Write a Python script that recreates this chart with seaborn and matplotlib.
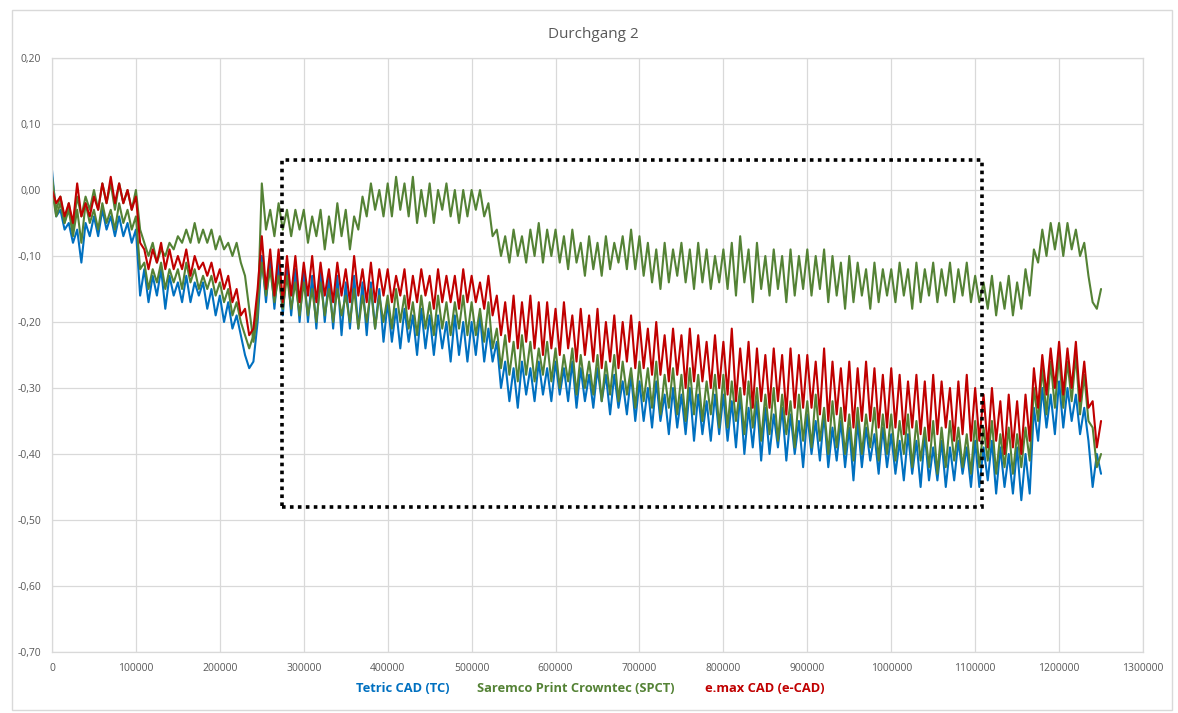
import numpy as np
import pandas as pd
import matplotlib
matplotlib.use("Agg")
import matplotlib.pyplot as plt
from matplotlib.patches import Rectangle
import seaborn as sns

# ---------------- data ----------------
title = "Durchgang 2"
series_names = ["Tetric CAD (TC)", "Saremco Print Crowntec (SPCT)", "e.max CAD (e-CAD)"]

# cycle positions: samples every 5000 cycles, 0 ... 1250000
cycles = list(range(0, 1250001, 5000))

tetric = [
    0.03, -0.04, -0.03, -0.06, -0.05, -0.08, -0.06, -0.11, -0.05, -0.07, -0.04, -0.07, -0.03, -0.06, -0.04, -0.07, -0.04, -0.07, -0.05, -0.08,
    -0.06, -0.16, -0.12, -0.17, -0.13, -0.16, -0.12, -0.18, -0.13, -0.16, -0.14, -0.17, -0.13, -0.17, -0.14, -0.16, -0.14, -0.18, -0.15, -0.19,
    -0.16, -0.20, -0.17, -0.21, -0.19, -0.22, -0.25, -0.27, -0.26, -0.20, -0.10, -0.17, -0.10, -0.18, -0.11, -0.19, -0.11, -0.19, -0.12, -0.20,
    -0.12, -0.20, -0.13, -0.21, -0.12, -0.20, -0.13, -0.21, -0.13, -0.22, -0.14, -0.21, -0.13, -0.21, -0.14, -0.22, -0.14, -0.21, -0.15, -0.23,
    -0.17, -0.23, -0.18, -0.24, -0.18, -0.23, -0.19, -0.25, -0.18, -0.24, -0.19, -0.25, -0.19, -0.24, -0.20, -0.26, -0.19, -0.25, -0.20, -0.26,
    -0.20, -0.25, -0.19, -0.26, -0.21, -0.26, -0.23, -0.30, -0.26, -0.32, -0.27, -0.33, -0.26, -0.31, -0.27, -0.32, -0.26, -0.31, -0.27, -0.32,
    -0.26, -0.31, -0.27, -0.32, -0.26, -0.33, -0.27, -0.32, -0.28, -0.33, -0.27, -0.32, -0.28, -0.34, -0.28, -0.33, -0.29, -0.34, -0.28, -0.35,
    -0.29, -0.35, -0.30, -0.36, -0.29, -0.35, -0.31, -0.37, -0.30, -0.36, -0.31, -0.37, -0.30, -0.38, -0.31, -0.37, -0.32, -0.38, -0.31, -0.37,
    -0.31, -0.38, -0.32, -0.39, -0.31, -0.40, -0.33, -0.39, -0.32, -0.41, -0.33, -0.40, -0.34, -0.39, -0.33, -0.41, -0.34, -0.40, -0.35, -0.42,
    -0.34, -0.40, -0.35, -0.41, -0.34, -0.42, -0.36, -0.41, -0.35, -0.42, -0.36, -0.44, -0.35, -0.42, -0.36, -0.41, -0.37, -0.43, -0.36, -0.42,
    -0.37, -0.43, -0.38, -0.44, -0.37, -0.43, -0.38, -0.45, -0.37, -0.44, -0.39, -0.44, -0.38, -0.45, -0.39, -0.44, -0.38, -0.43, -0.39, -0.45,
    -0.38, -0.45, -0.39, -0.44, -0.38, -0.46, -0.39, -0.45, -0.40, -0.46, -0.39, -0.47, -0.40, -0.46, -0.33, -0.38, -0.30, -0.36, -0.31, -0.37,
    -0.29, -0.36, -0.30, -0.35, -0.31, -0.37, -0.33, -0.38, -0.45, -0.40, -0.43,
]

emax = [
    0.00, -0.02, -0.01, -0.04, -0.02, -0.05, 0.01, -0.04, -0.02, -0.04, -0.01, -0.03, 0.01, -0.02, 0.02, -0.02, 0.01, -0.02, 0.00, -0.03,
    -0.01, -0.08, -0.09, -0.12, -0.09, -0.11, -0.08, -0.12, -0.09, -0.12, -0.10, -0.12, -0.09, -0.13, -0.10, -0.12, -0.11, -0.13, -0.11, -0.14,
    -0.12, -0.15, -0.13, -0.17, -0.15, -0.19, -0.18, -0.22, -0.21, -0.15, -0.07, -0.15, -0.09, -0.16, -0.09, -0.17, -0.10, -0.16, -0.10, -0.17,
    -0.11, -0.16, -0.10, -0.17, -0.11, -0.16, -0.12, -0.17, -0.11, -0.16, -0.12, -0.17, -0.10, -0.16, -0.12, -0.17, -0.11, -0.17, -0.12, -0.16,
    -0.12, -0.17, -0.13, -0.16, -0.12, -0.18, -0.13, -0.17, -0.12, -0.16, -0.13, -0.18, -0.12, -0.17, -0.13, -0.17, -0.13, -0.18, -0.12, -0.17,
    -0.13, -0.17, -0.14, -0.18, -0.13, -0.19, -0.16, -0.22, -0.17, -0.23, -0.16, -0.24, -0.17, -0.23, -0.16, -0.24, -0.17, -0.25, -0.17, -0.24,
    -0.18, -0.25, -0.17, -0.24, -0.19, -0.26, -0.18, -0.25, -0.19, -0.26, -0.18, -0.27, -0.20, -0.26, -0.19, -0.27, -0.20, -0.26, -0.19, -0.27,
    -0.20, -0.27, -0.21, -0.28, -0.20, -0.28, -0.22, -0.29, -0.21, -0.28, -0.22, -0.30, -0.21, -0.29, -0.22, -0.29, -0.23, -0.30, -0.22, -0.30,
    -0.23, -0.31, -0.21, -0.32, -0.24, -0.31, -0.23, -0.33, -0.24, -0.32, -0.25, -0.33, -0.24, -0.32, -0.25, -0.34, -0.24, -0.33, -0.25, -0.33,
    -0.25, -0.33, -0.26, -0.34, -0.24, -0.35, -0.26, -0.34, -0.27, -0.35, -0.26, -0.36, -0.27, -0.35, -0.26, -0.35, -0.27, -0.36, -0.28, -0.36,
    -0.27, -0.36, -0.28, -0.37, -0.29, -0.36, -0.28, -0.37, -0.29, -0.38, -0.28, -0.37, -0.29, -0.36, -0.30, -0.38, -0.29, -0.37, -0.28, -0.38,
    -0.30, -0.38, -0.31, -0.39, -0.30, -0.38, -0.32, -0.40, -0.31, -0.39, -0.32, -0.40, -0.31, -0.38, -0.27, -0.33, -0.25, -0.31, -0.24, -0.30,
    -0.23, -0.31, -0.24, -0.30, -0.23, -0.32, -0.26, -0.33, -0.32, -0.39, -0.35,
]

saremco_low = [
    0.00, -0.04, -0.02, -0.05, -0.03, -0.07, -0.03, -0.08, -0.02, -0.05, -0.03, -0.06, -0.02, -0.05, -0.03, -0.06, -0.02, -0.05, -0.03, -0.06,
    -0.04, -0.12, -0.11, -0.15, -0.12, -0.14, -0.11, -0.15, -0.12, -0.14, -0.12, -0.15, -0.11, -0.14, -0.12, -0.15, -0.13, -0.15, -0.13, -0.16,
    -0.14, -0.17, -0.15, -0.19, -0.17, -0.20, -0.22, -0.24, -0.22, -0.17, -0.11, -0.16, -0.12, -0.17, -0.13, -0.18, -0.13, -0.18, -0.14, -0.19,
    -0.14, -0.19, -0.15, -0.20, -0.14, -0.19, -0.15, -0.20, -0.15, -0.19, -0.16, -0.20, -0.15, -0.21, -0.16, -0.20, -0.15, -0.21, -0.16, -0.20,
    -0.16, -0.21, -0.15, -0.20, -0.16, -0.21, -0.17, -0.22, -0.16, -0.21, -0.17, -0.22, -0.16, -0.21, -0.17, -0.22, -0.17, -0.21, -0.16, -0.22,
    -0.17, -0.22, -0.18, -0.23, -0.17, -0.24, -0.21, -0.27, -0.22, -0.28, -0.23, -0.29, -0.22, -0.28, -0.23, -0.29, -0.24, -0.28, -0.23, -0.29,
    -0.24, -0.30, -0.25, -0.29, -0.24, -0.31, -0.25, -0.30, -0.26, -0.31, -0.25, -0.32, -0.26, -0.31, -0.25, -0.32, -0.26, -0.31, -0.27, -0.33,
    -0.26, -0.32, -0.27, -0.33, -0.26, -0.34, -0.28, -0.33, -0.27, -0.34, -0.28, -0.35, -0.27, -0.34, -0.28, -0.35, -0.29, -0.34, -0.28, -0.36,
    -0.28, -0.36, -0.29, -0.35, -0.30, -0.37, -0.29, -0.36, -0.30, -0.38, -0.31, -0.37, -0.30, -0.38, -0.31, -0.37, -0.32, -0.39, -0.31, -0.38,
    -0.32, -0.39, -0.31, -0.38, -0.33, -0.40, -0.32, -0.39, -0.33, -0.40, -0.34, -0.41, -0.33, -0.40, -0.34, -0.39, -0.33, -0.41, -0.34, -0.40,
    -0.34, -0.41, -0.35, -0.40, -0.34, -0.42, -0.35, -0.41, -0.36, -0.42, -0.35, -0.43, -0.36, -0.42, -0.35, -0.41, -0.36, -0.42, -0.37, -0.43,
    -0.35, -0.42, -0.36, -0.41, -0.35, -0.43, -0.37, -0.42, -0.36, -0.43, -0.37, -0.42, -0.36, -0.41, -0.30, -0.35, -0.27, -0.34, -0.26, -0.33,
    -0.25, -0.33, -0.26, -0.32, -0.25, -0.34, -0.28, -0.35, -0.36, -0.42, -0.40,
]

saremco_high = [
    0.02, -0.03, -0.01, -0.05, -0.02, -0.06, -0.01, -0.04, -0.01, -0.03, 0.00, -0.03, 0.01, -0.02, 0.01, -0.03, 0.01, -0.02, 0.00, -0.03,
    0.00, -0.06, -0.08, -0.10, -0.08, -0.11, -0.09, -0.10, -0.08, -0.09, -0.07, -0.08, -0.06, -0.08, -0.05, -0.08, -0.06, -0.08, -0.06, -0.09,
    -0.07, -0.09, -0.08, -0.10, -0.08, -0.11, -0.13, -0.18, -0.23, -0.19, 0.01, -0.06, -0.03, -0.07, -0.02, -0.06, -0.03, -0.07, -0.03, -0.06,
    -0.03, -0.08, -0.04, -0.07, -0.03, -0.09, -0.04, -0.08, -0.02, -0.07, -0.03, -0.09, -0.04, -0.06, -0.01, -0.04, 0.01, -0.03, 0.00, -0.04,
    0.01, -0.04, 0.02, -0.03, 0.01, -0.04, 0.02, -0.05, 0.00, -0.04, 0.01, -0.05, 0.00, -0.03, 0.01, -0.04, 0.00, -0.05, 0.00, -0.04,
    0.00, -0.03, 0.00, -0.04, -0.02, -0.07, -0.06, -0.10, -0.07, -0.11, -0.06, -0.10, -0.07, -0.11, -0.06, -0.10, -0.05, -0.11, -0.06, -0.10,
    -0.06, -0.11, -0.07, -0.12, -0.06, -0.11, -0.08, -0.13, -0.07, -0.12, -0.08, -0.13, -0.07, -0.12, -0.08, -0.11, -0.07, -0.12, -0.06, -0.12,
    -0.07, -0.13, -0.08, -0.14, -0.09, -0.15, -0.08, -0.14, -0.09, -0.13, -0.08, -0.14, -0.09, -0.15, -0.08, -0.14, -0.09, -0.15, -0.10, -0.14,
    -0.09, -0.15, -0.08, -0.16, -0.07, -0.14, -0.09, -0.17, -0.08, -0.15, -0.10, -0.16, -0.09, -0.15, -0.10, -0.17, -0.09, -0.16, -0.10, -0.15,
    -0.09, -0.16, -0.10, -0.15, -0.09, -0.17, -0.10, -0.16, -0.11, -0.18, -0.10, -0.17, -0.11, -0.16, -0.12, -0.18, -0.11, -0.17, -0.12, -0.16,
    -0.12, -0.17, -0.11, -0.16, -0.12, -0.18, -0.11, -0.17, -0.12, -0.16, -0.11, -0.17, -0.12, -0.16, -0.11, -0.17, -0.12, -0.16, -0.11, -0.17,
    -0.13, -0.17, -0.14, -0.18, -0.13, -0.19, -0.14, -0.18, -0.13, -0.19, -0.14, -0.18, -0.12, -0.16, -0.09, -0.11, -0.06, -0.10, -0.05, -0.09,
    -0.05, -0.10, -0.05, -0.09, -0.06, -0.10, -0.08, -0.13, -0.17, -0.18, -0.15,
]

y_ticks = [0.20, 0.10, 0.00, -0.10, -0.20, -0.30, -0.40, -0.50, -0.60, -0.70]
y_tick_labels = ["0,20", "0,10", "0,00", "-0,10", "-0,20", "-0,30", "-0,40", "-0,50", "-0,60", "-0,70"]
x_ticks = list(range(0, 1300001, 100000))
x_tick_labels = [str(v) for v in x_ticks]

# highlighted region (dotted frame)
box_x = [274000, 1108000]
box_y = [-0.48, 0.045]

colors = {"blue": "#0070C0", "green": "#548235", "red": "#C00000"}

for s in (tetric, emax, saremco_low, saremco_high):
    assert len(s) == len(cycles), len(s)

# ---------------- figure ----------------
sns.set_theme(style="white")
plt.rcParams["font.family"] = ["Open Sans", "DejaVu Sans"]

fig = plt.figure(figsize=(11.78, 7.13), dpi=100)
fig.patches.append(Rectangle((12 / 1178, 3 / 713), 1160 / 1178, 700 / 713,
                             transform=fig.transFigure, fill=False,
                             edgecolor="#D9D9D9", linewidth=1.0))
ax = fig.add_axes([52 / 1178, 1 - 652 / 713, 1091 / 1178, 594 / 713])

df = pd.DataFrame({
    "cycles": cycles * 4,
    "value": tetric + saremco_low + saremco_high + emax,
    "line": (["TC"] * len(cycles) + ["SPCT_b"] * len(cycles)
             + ["SPCT_a"] * len(cycles) + ["eCAD"] * len(cycles)),
})
palette = {"TC": colors["blue"], "SPCT_b": colors["green"],
           "SPCT_a": colors["green"], "eCAD": colors["red"]}
for key in ["TC", "SPCT_b", "SPCT_a", "eCAD"]:
    sub = df[df["line"] == key]
    sns.lineplot(data=sub, x="cycles", y="value", ax=ax, color=palette[key],
                 linewidth=1.5, estimator=None, sort=False, legend=False)

ax.add_patch(Rectangle((box_x[0], box_y[0]), box_x[1] - box_x[0], box_y[1] - box_y[0],
                       fill=False, edgecolor="black", linestyle=(0, (1, 1.2)),
                       linewidth=2.6, zorder=5))

ax.set_xlim(0, 1300000)
ax.set_ylim(-0.70, 0.20)
ax.set_xticks(x_ticks)
ax.set_xticklabels(x_tick_labels)
ax.set_yticks(y_ticks)
ax.set_yticklabels(y_tick_labels)
ax.tick_params(axis="both", length=0, labelsize=7.5, labelcolor="#595959", pad=8)
ax.grid(True, color="#D9D9D9", linewidth=0.9)
ax.set_axisbelow(True)
for sp in ax.spines.values():
    sp.set_color("#D9D9D9")
    sp.set_linewidth(0.9)
ax.set_xlabel("")
ax.set_ylabel("")

fig.text(593 / 1178, 1 - 34 / 713, title, ha="center", va="center",
         fontsize=11, color="#595959")

legend_x = [403, 576, 765]
legend_colors = [colors["blue"], colors["green"], colors["red"]]
for name, px, col in zip(series_names, legend_x, legend_colors):
    fig.text(px / 1178, 1 - 688 / 713, name, ha="center", va="center",
             fontsize=9.3, fontweight="bold", color=col)

fig.savefig("out.png", dpi=100)
